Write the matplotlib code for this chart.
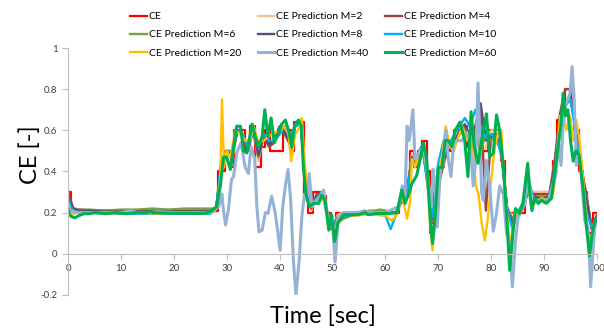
import matplotlib
matplotlib.use("Agg")
import matplotlib.pyplot as plt

plt.rcParams['font.family'] = ['Lato', 'DejaVu Sans']

# measured CE (step signal)
t_ce = [0, 0.5, 28.4, 29.6, 30.8, 31.4, 33.4, 34.4, 35.4, 36.4, 37.2, 38.2, 40.6, 42.2, 42.8,
        44.6, 45.3, 46.4, 47.6, 48.8, 49.8, 50.6, 62.6, 63.6, 64.6, 65.4, 66.2, 67.0, 67.8,
        68.4, 69.2, 70.0, 71.0, 72.2, 73.0, 74.6, 75.4, 76.0, 77.0, 78.0, 79.4, 81.8, 82.6,
        86.4, 91.6, 92.4, 93.4, 94.0, 95.6, 96.6, 97.4, 98.2, 99.2, 100]
ce = [0.30, 0.21, 0.40, 0.50, 0.42, 0.60, 0.50, 0.62, 0.42, 0.52, 0.60, 0.50, 0.60, 0.50, 0.64,
      0.29, 0.20, 0.30, 0.28, 0.20, 0.12, 0.20, 0.25, 0.30, 0.50, 0.42, 0.50, 0.55, 0.40,
      0.10, 0.30, 0.42, 0.55, 0.50, 0.60, 0.62, 0.52, 0.60, 0.45, 0.50, 0.60, 0.45, 0.20,
      0.30, 0.45, 0.65, 0.70, 0.80, 0.60, 0.40, 0.30, 0.10, 0.20, 0.20]

# short horizon predictions share one time grid: 13 early points, then 28..100 s
t_pred = [0, 0.5, 1, 2, 4, 7, 10, 13, 16, 19, 22, 25, 27] + list(range(28, 101))

m2 = [0.30, 0.25, 0.22, 0.215, 0.21, 0.21, 0.21, 0.21, 0.21, 0.21, 0.21, 0.21, 0.21,
      0.23, 0.42, 0.50, 0.46, 0.60, 0.59, 0.50, 0.61, 0.45, 0.58,
      0.52, 0.54, 0.60, 0.60, 0.55, 0.63, 0.63, 0.30, 0.21, 0.29,
      0.29, 0.20, 0.13, 0.19, 0.20, 0.20, 0.20, 0.20, 0.205, 0.20,
      0.20, 0.20, 0.20, 0.20, 0.20, 0.25, 0.30, 0.48, 0.44, 0.53,
      0.38, 0.14, 0.32, 0.43, 0.54, 0.51, 0.60, 0.62, 0.55, 0.60,
      0.50, 0.52, 0.60, 0.60, 0.46, 0.21, 0.19, 0.20, 0.22, 0.31,
      0.30, 0.30, 0.30, 0.30, 0.45, 0.66, 0.72, 0.78, 0.60, 0.40,
      0.28, 0.12, 0.19]

m4 = [0.30, 0.26, 0.22, 0.215, 0.21, 0.21, 0.21, 0.21, 0.215, 0.21, 0.21, 0.21, 0.21,
      0.22, 0.44, 0.50, 0.47, 0.60, 0.58, 0.50, 0.60, 0.47, 0.57,
      0.52, 0.54, 0.61, 0.58, 0.53, 0.63, 0.64, 0.31, 0.22, 0.29,
      0.29, 0.20, 0.13, 0.18, 0.19, 0.20, 0.20, 0.20, 0.21, 0.20,
      0.20, 0.20, 0.20, 0.20, 0.20, 0.25, 0.29, 0.47, 0.45, 0.53,
      0.36, 0.15, 0.33, 0.44, 0.53, 0.52, 0.59, 0.62, 0.56, 0.60,
      0.73, 0.21, 0.58, 0.58, 0.47, 0.22, 0.17, 0.20, 0.22, 0.30,
      0.29, 0.29, 0.29, 0.29, 0.45, 0.68, 0.80, 0.80, 0.60, 0.42,
      0.29, 0.12, 0.19]

m6 = [0.28, 0.24, 0.22, 0.215, 0.215, 0.21, 0.215, 0.215, 0.22, 0.215, 0.22, 0.22, 0.22,
      0.22, 0.43, 0.49, 0.47, 0.59, 0.58, 0.51, 0.60, 0.47, 0.57,
      0.53, 0.55, 0.61, 0.59, 0.53, 0.62, 0.63, 0.32, 0.24, 0.28,
      0.30, 0.21, 0.14, 0.15, 0.17, 0.18, 0.19, 0.20, 0.205, 0.21,
      0.21, 0.215, 0.21, 0.20, 0.20, 0.25, 0.30, 0.46, 0.45, 0.52,
      0.35, 0.16, 0.34, 0.44, 0.52, 0.53, 0.58, 0.61, 0.57, 0.61,
      0.48, 0.60, 0.55, 0.57, 0.48, 0.23, 0.16, 0.18, 0.23, 0.33,
      0.28, 0.28, 0.28, 0.28, 0.42, 0.64, 0.74, 0.74, 0.62, 0.43,
      0.27, 0.13, 0.17]

m8 = [0.29, 0.25, 0.22, 0.21, 0.21, 0.205, 0.205, 0.205, 0.205, 0.205, 0.205, 0.205, 0.205,
      0.22, 0.44, 0.50, 0.48, 0.60, 0.58, 0.51, 0.61, 0.48, 0.57,
      0.53, 0.55, 0.62, 0.59, 0.53, 0.63, 0.64, 0.31, 0.23, 0.28,
      0.30, 0.20, 0.14, 0.17, 0.18, 0.19, 0.195, 0.20, 0.20, 0.20,
      0.20, 0.20, 0.20, 0.20, 0.20, 0.26, 0.29, 0.46, 0.46, 0.52,
      0.34, 0.17, 0.34, 0.45, 0.52, 0.54, 0.60, 0.63, 0.57, 0.62,
      0.73, 0.55, 0.57, 0.57, 0.48, 0.22, 0.15, 0.19, 0.24, 0.34,
      0.28, 0.27, 0.27, 0.28, 0.42, 0.64, 0.74, 0.76, 0.62, 0.43,
      0.26, 0.13, 0.17]

m10 = [0.27, 0.23, 0.21, 0.20, 0.20, 0.20, 0.195, 0.195, 0.195, 0.195, 0.195, 0.195, 0.195,
       0.22, 0.45, 0.50, 0.50, 0.60, 0.58, 0.52, 0.60, 0.52, 0.58,
       0.55, 0.55, 0.58, 0.62, 0.58, 0.62, 0.63, 0.32, 0.24, 0.27,
       0.30, 0.20, 0.14, 0.17, 0.18, 0.185, 0.19, 0.19, 0.195, 0.19,
       0.19, 0.19, 0.185, 0.12, 0.19, 0.26, 0.28, 0.45, 0.48, 0.53,
       0.32, 0.18, 0.44, 0.55, 0.53, 0.58, 0.62, 0.66, 0.62, 0.70,
       0.62, 0.56, 0.58, 0.56, 0.48, 0.22, 0.12, 0.20, 0.25, 0.36,
       0.27, 0.26, 0.26, 0.27, 0.40, 0.62, 0.72, 0.75, 0.58, 0.42,
       0.20, 0.13, 0.17]

t20 = [0, 0.3, 0.8, 1.5, 3, 5, 8, 11, 14, 17, 20, 23, 26, 27.5, 28.3, 28.8, 29.1, 29.5, 30,
       30.7, 31.6, 32.6, 33.5, 34.4, 35.1, 36, 37, 37.9, 38.9, 39.8, 40.7, 41.6, 42.2, 42.9,
       43.7, 44.2, 44.7, 45.5, 46.7, 48, 48.9, 49.8, 50.4, 51.1, 52.1, 54, 56, 58, 60, 61.2,
       62.2, 63.1, 64.1, 64.7, 65, 65.6, 66.3, 67.2, 67.8, 68.5, 68.9, 69.5, 70.2, 70.8,
       71.4, 72.2, 72.9, 73.8, 74.5, 75.4, 76.3, 77.1, 77.6, 78.2, 78.8, 79.4, 80, 80.7,
       81.3, 81.9, 82.4, 82.9, 83.5, 84.1, 84.8, 85.7, 86.7, 87.3, 88.2, 89.5, 90.8, 91.7,
       92.3, 93, 93.6, 94.2, 94.9, 95.5, 96.1, 96.7, 97.2, 97.7, 98.3, 98.8, 99.3, 100]
m20 = [0.25, 0.22, 0.19, 0.2, 0.2, 0.2, 0.195, 0.2, 0.2, 0.195, 0.2, 0.2, 0.2, 0.2, 0.23,
       0.37, 0.75, 0.42, 0.50, 0.47, 0.60, 0.58, 0.55, 0.55, 0.62, 0.54, 0.55, 0.57, 0.59,
       0.59, 0.62, 0.60, 0.45, 0.58, 0.61, 0.66, 0.46, 0.245, 0.25, 0.29, 0.21, 0.13, 0.10,
       0.18, 0.196, 0.185, 0.19, 0.19, 0.185, 0.16, 0.19, 0.29, 0.17, 0.26, 0.46, 0.42,
       0.49, 0.52, 0.41, 0.13, 0.017, 0.21, 0.41, 0.49, 0.62, 0.52, 0.50, 0.57, 0.62, 0.55,
       0.59, 0.33, 0.29, 0.15, 0.065, 0.18, 0.36, 0.52, 0.59, 0.60, 0.39, 0.23, 0.03, 0.13,
       0.195, 0.21, 0.36, 0.28, 0.245, 0.27, 0.26, 0.29, 0.42, 0.67, 0.67, 0.60, 0.67, 0.55,
       0.65, 0.55, 0.42, 0.26, 0.10, 0.065, 0.13, 0.155]

t40 = [0, 0.5, 1, 2, 4, 6, 8, 10, 12, 13, 15, 17, 20, 23, 26, 27.2, 28.5, 29.1, 29.4, 29.8,
       30.3, 30.9, 31.3, 31.9, 32.7, 33.5, 34.1, 34.6, 35.3, 35.7, 36.1, 36.7, 37.3, 37.8,
       38.5, 39.2, 40.1, 40.6, 41.1, 41.6, 42.1, 42.6, 43.1, 43.7, 44.2, 44.7, 45.2, 45.6,
       46.1, 47.4, 48.3, 49.3, 49.9, 50.5, 51.1, 52.1, 54, 56, 58, 60, 62.5, 63.2, 63.7,
       64.1, 64.5, 65.2, 65.6, 66.6, 67.5, 68.2, 68.7, 69, 69.4, 69.8, 70.4, 70.9, 71.4,
       71.9, 72.4, 72.9, 73.5, 74.5, 75.4, 76, 76.6, 77.1, 77.5, 78.2, 78.5, 79.1, 79.7,
       80.4, 81, 81.6, 82.3, 82.9, 83.5, 84, 84.6, 85.1, 86.4, 87, 87.6, 88.2, 89.5, 90.8,
       91.7, 92.3, 92.7, 93.2, 93.6, 94.2, 94.9, 95.3, 95.7, 96.1, 96.7, 97.2, 97.7, 98.3,
       98.8, 99.3, 99.6, 100]
m40 = [0.22, 0.21, 0.205, 0.2, 0.2, 0.2, 0.2, 0.2, 0.21, 0.2, 0.2, 0.205, 0.2, 0.2, 0.2,
       0.205, 0.23, 0.29, 0.21, 0.14, 0.21, 0.36, 0.375, 0.49, 0.54, 0.42, 0.39, 0.52, 0.46,
       0.23, 0.107, 0.115, 0.20, 0.196, 0.28, 0.196, 0.017, 0.23, 0.33, 0.41, 0.26, -0.03,
       -0.20, -0.03, 0.18, 0.29, 0.26, 0.39, 0.23, 0.26, 0.31, 0.15, 0.18, -0.04, 0.18, 0.20,
       0.2, 0.205, 0.2, 0.2, 0.23, 0.33, 0.26, 0.62, 0.55, 0.70, 0.46, 0.50, 0.49, 0.33,
       0.23, 0.41, 0.33, 0.13, 0.41, 0.44, 0.60, 0.46, 0.375, 0.54, 0.55, 0.55, 0.59, 0.55,
       0.33, 0.46, 0.83, 0.30, 0.26, 0.455, 0.325, 0.11, 0.196, 0.33, 0.29, 0.10, 0.05,
       -0.16, 0.065, 0.18, 0.245, 0.39, 0.28, 0.26, 0.26, 0.26, 0.34, 0.39, 0.55, 0.43,
       0.63, 0.73, 0.78, 0.91, 0.73, 0.43, 0.47, 0.33, 0.16, 0.13, -0.16, 0.03, 0.13, 0.16]

t60 = [0, 0.3, 0.7, 1.3, 2, 3, 4, 5, 7, 9, 11, 13, 15, 15.5, 16, 18, 20, 22, 24, 26, 27.2,
       28.1, 28.8, 29.4, 30, 30.7, 31.3, 31.9, 32.6, 33.2, 33.8, 34.8, 35.4, 36, 36.7, 37.2,
       37.8, 38.4, 39, 39.7, 40.4, 41.1, 41.8, 42.3, 42.9, 43.6, 44.1, 44.5, 45, 45.6, 46.4,
       47.4, 48, 48.6, 49.3, 49.8, 50.4, 51, 52.1, 53.7, 54.9, 56.2, 56.8, 58.1, 59.3, 60.6,
       62.2, 63.1, 63.7, 64.4, 65, 65.9, 66.6, 67.2, 67.8, 68.5, 68.9, 69.4, 70, 70.7, 71.3,
       71.9, 72.6, 73.2, 74.1, 75, 75.6, 76.2, 76.8, 77.5, 78.2, 79.1, 79.7, 80.4, 81, 81.6,
       82.3, 82.9, 83.5, 84.1, 84.6, 85.4, 86, 86.9, 87.3, 87.7, 88.2, 88.9, 89.5, 90.4, 91.4,
       92, 92.7, 93.2, 93.6, 94, 94.5, 95, 95.5, 96, 96.6, 97.4, 98, 98.6, 99.1, 99.6, 100]
m60 = [0.22, 0.19, 0.18, 0.175, 0.185, 0.195, 0.195, 0.2, 0.195, 0.2, 0.195, 0.2, 0.2, 0.207,
       0.2, 0.198, 0.197, 0.197, 0.196, 0.197, 0.21, 0.23, 0.33, 0.47, 0.47, 0.41, 0.52, 0.62,
       0.62, 0.50, 0.49, 0.63, 0.57, 0.52, 0.57, 0.70, 0.57, 0.66, 0.54, 0.58, 0.63, 0.65,
       0.59, 0.52, 0.63, 0.65, 0.62, 0.42, 0.29, 0.23, 0.245, 0.245, 0.285, 0.26, 0.115, 0.19,
       0.06, 0.15, 0.19, 0.19, 0.19, 0.20, 0.19, 0.196, 0.196, 0.196, 0.20, 0.31, 0.245, 0.29,
       0.34, 0.38, 0.46, 0.54, 0.46, 0.16, 0.05, 0.18, 0.42, 0.42, 0.55, 0.55, 0.52, 0.60,
       0.64, 0.55, 0.375, 0.69, 0.52, 0.44, 0.55, 0.68, 0.47, 0.49, 0.675, 0.60, 0.42, 0.195,
       -0.08, 0.10, 0.22, 0.195, 0.245, 0.44, 0.29, 0.21, 0.27, 0.245, 0.26, 0.245, 0.27,
       0.39, 0.53, 0.63, 0.78, 0.67, 0.70, 0.55, 0.45, 0.50, 0.48, 0.31, 0.13, -0.01, 0.10,
       0.155, 0.16]

labels = ['CE', 'CE Prediction M=2', 'CE Prediction M=4', 'CE Prediction M=6',
          'CE Prediction M=8', 'CE Prediction M=10', 'CE Prediction M=20',
          'CE Prediction M=40', 'CE Prediction M=60']
colors = ['#FF0000', '#FAC090', '#A0413E', '#77A33C', '#604A7B', '#00B0F0',
          '#FFC000', '#95B3D7', '#00B050']

fig = plt.figure(figsize=(6.04, 3.29), dpi=100)
ax = fig.add_axes([68 / 604, 34 / 329, 529 / 604, 247 / 329])

series = [(t_pred, m2), (t_pred, m4), (t_pred, m6), (t_pred, m8), (t_pred, m10),
          (t20, m20), (t40, m40), (t60, m60)]
handles = []
h, = ax.plot(t_ce, ce, drawstyle='steps-post', color=colors[0], lw=1.6, label=labels[0])
handles.append(h)
for i, (tt, vv) in enumerate(series, start=1):
    lw = 2.2 if i in (7, 8) else 1.7
    h, = ax.plot(tt, vv, color=colors[i], lw=lw, label=labels[i])
    handles.append(h)

ax.set_xlim(0, 100)
ax.set_ylim(-0.2, 1.0)
ax.set_xticks([0, 10, 20, 30, 40, 50, 60, 70, 80, 90, 100])
ax.set_yticks([-0.2, 0, 0.2, 0.4, 0.6, 0.8, 1.0])
ax.set_yticklabels(['-0.2', '0', '0.2', '0.4', '0.6', '0.8', '1'])
for s in ['top', 'right']:
    ax.spines[s].set_visible(False)
ax.spines['bottom'].set_position(('data', 0))
ax.spines['bottom'].set_color('#BFBFBF')
ax.spines['left'].set_color('#BFBFBF')
ax.tick_params(axis='both', colors='#BFBFBF', labelcolor='#404040', labelsize=7, length=4)

fig.text(0.535, 0.04, 'Time [sec]', ha='center', va='center', fontsize=17)
fig.text(0.05, 0.53, 'CE [-]', ha='center', va='center', rotation=90, fontsize=17)

# row-major order like the original legend
order = [0, 3, 6, 1, 4, 7, 2, 5, 8]
fig.legend([handles[k] for k in order], [labels[k] for k in order], ncol=3,
           loc='upper left', bbox_to_anchor=(130 / 604, 1 - 12 / 329), frameon=False,
           fontsize=7.5, handlelength=1.6, handletextpad=0.2, columnspacing=1.6,
           labelspacing=0.85, borderpad=0, borderaxespad=0)

fig.savefig('out.png', dpi=100)
